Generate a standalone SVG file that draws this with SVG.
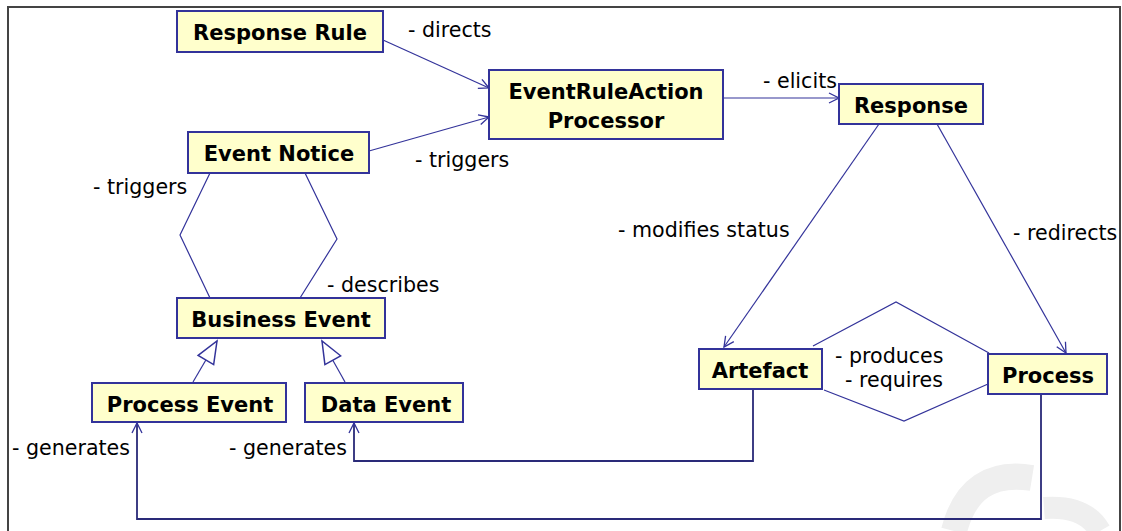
<svg xmlns="http://www.w3.org/2000/svg" width="1122" height="531" viewBox="0 0 1122 531">
<defs>
<style>
.box{fill:#FFFFCC;stroke:#33339A;stroke-width:2}
.nt{font-family:"DejaVu Sans",Verdana,sans-serif;font-weight:bold;font-size:21px;fill:#000;text-anchor:middle}
.lb{font-family:"DejaVu Sans",Verdana,sans-serif;font-size:20.6px;fill:#000}
.ln{fill:none;stroke:#33339A;stroke-width:1.2}
.or{fill:none;stroke:#2A2A78;stroke-width:1.8}
</style>
<marker id="open" markerUnits="userSpaceOnUse" markerWidth="14" markerHeight="14" viewBox="0 0 14 14" refX="12" refY="7" orient="auto">
<path d="M2,2 L12,7 L2,12" fill="none" stroke="#33339A" stroke-width="1.3"/>
</marker>
<marker id="gen" markerUnits="userSpaceOnUse" markerWidth="26" markerHeight="22" viewBox="0 0 26 22" refX="24" refY="11" orient="auto">
<path d="M2,2 L24,11 L2,20 Z" fill="#fff" stroke="#33339A" stroke-width="1.5"/>
</marker>
</defs>
<rect x="0" y="0" width="1122" height="531" fill="#fff"/>
<g id="watermark" fill="none" stroke="#efefef">
<path d="M 954 531 Q 970 468 1032 478" stroke-width="26"/>
<path d="M 1044 508 Q 1085 505 1100 531" stroke-width="22"/>
</g>
<rect x="8" y="7" width="1112" height="540" fill="none" stroke="#444" stroke-width="2"/>
<g id="connectors">
<path class="ln" d="M383,40 L489,88" marker-end="url(#open)"/>
<path class="ln" d="M369,151 L489,117" marker-end="url(#open)"/>
<path class="ln" d="M723,98 L839,98" marker-end="url(#open)"/>
<path class="ln" d="M879,124 L724,347" marker-end="url(#open)"/>
<path class="ln" d="M937,124 L1066,353" marker-end="url(#open)"/>
<path class="ln" d="M210,173 L180,235 L210,298"/>
<path class="ln" d="M305,173 L337,239 L300,298"/>
<path class="ln" d="M813,346 L896,302 L989,353"/>
<path class="ln" d="M824,390 L904,421 L988,384"/>
<path class="ln" d="M193,382 L217,341" marker-end="url(#gen)"/>
<path class="ln" d="M345,382 L322,341" marker-end="url(#gen)"/>
<path class="or" d="M753,389 L753,461 L354,461 L354,423" marker-end="url(#open)"/>
<path class="or" d="M1041,394 L1041,519 L137,519 L137,423" marker-end="url(#open)"/>
</g>
<g id="labels">
<text class="lb" x="408" y="37">- directs</text>
<text class="lb" x="415" y="167">- triggers</text>
<text class="lb" x="763" y="88">- elicits</text>
<text class="lb" x="93" y="194">- triggers</text>
<text class="lb" x="327" y="292">- describes</text>
<text class="lb" x="618" y="237">- modifies status</text>
<text class="lb" x="1013" y="240">- redirects</text>
<text class="lb" x="835" y="363">- produces</text>
<text class="lb" x="845" y="387">- requires</text>
<text class="lb" x="12" y="455">- generates</text>
<text class="lb" x="229" y="455">- generates</text>
</g>
<g id="response-rule"><rect class="box" x="177" y="11" width="206" height="41"/><text class="nt" x="280" y="40">Response Rule</text></g>
<g id="event-notice"><rect class="box" x="188" y="132" width="181" height="41"/><text class="nt" x="279" y="161">Event Notice</text></g>
<g id="era-processor"><rect class="box" x="489" y="70" width="234" height="69"/><text class="nt" x="606" y="99">EventRuleAction</text><text class="nt" x="606" y="128">Processor</text></g>
<g id="response"><rect class="box" x="839" y="84" width="144" height="40"/><text class="nt" x="911" y="113">Response</text></g>
<g id="business-event"><rect class="box" x="177" y="298" width="208" height="40"/><text class="nt" x="281" y="327">Business Event</text></g>
<g id="process-event"><rect class="box" x="92" y="383" width="194" height="39"/><text class="nt" x="190" y="412">Process Event</text></g>
<g id="data-event"><rect class="box" x="305" y="383" width="158" height="39"/><text class="nt" x="386" y="412">Data Event</text></g>
<g id="artefact"><rect class="box" x="699" y="349" width="123" height="40"/><text class="nt" x="760" y="378">Artefact</text></g>
<g id="process"><rect class="box" x="988" y="354" width="119" height="40"/><text class="nt" x="1048" y="383">Process</text></g>
</svg>
